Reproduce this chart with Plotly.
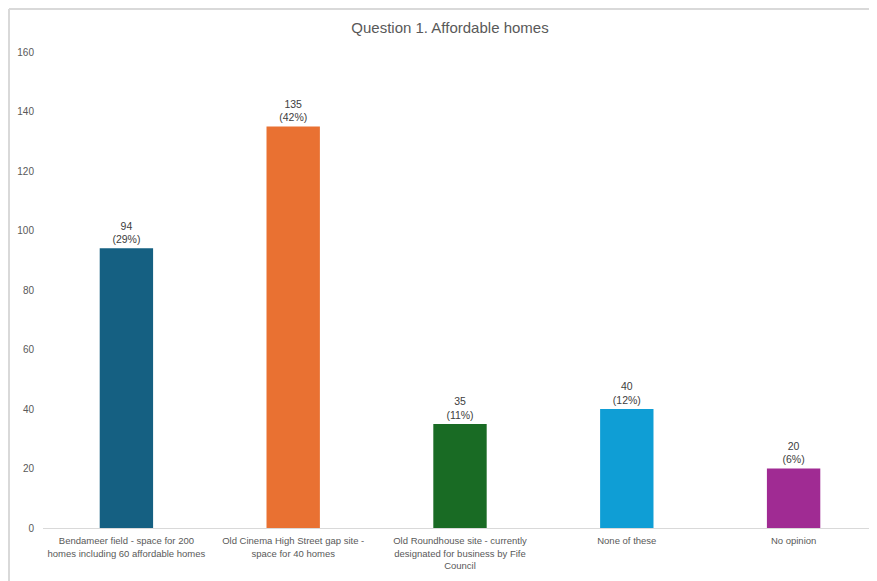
import plotly.graph_objects as go

categories = [
    "Bendameer field - space for 200<br>homes including 60 affordable homes",
    "Old Cinema High Street gap site -<br>space for 40 homes",
    "Old Roundhouse site - currently<br>designated for business by Fife<br>Council",
    "None of these",
    "No opinion",
]
values = [94, 135, 35, 40, 20]
percents = ["29%", "42%", "11%", "12%", "6%"]
colors = ["#156082", "#E97132", "#196B24", "#0F9ED5", "#A02B93"]
y_ticks = [0, 20, 40, 60, 80, 100, 120, 140, 160]

labels = [f"{v}<br>({p})" for v, p in zip(values, percents)]

W, H = 869, 573
L, T, B = 35, 44, 53
PW, PH = W - L, H - T - B

fig = go.Figure(go.Bar(
    x=categories, y=values, marker=dict(color=colors, line=dict(width=0)),
    text=labels, textposition="outside", cliponaxis=False,
    textfont=dict(size=10.5, color="#404040", family="Liberation Sans"),
    hoverinfo="skip",
))

fig.update_layout(
    width=W, height=H,
    margin=dict(l=L, r=0, t=T, b=B),
    paper_bgcolor="white", plot_bgcolor="white",
    bargap=0.68,
    showlegend=False,
    font=dict(family="Liberation Sans", size=10, color="#595959"),
    title=dict(text="Question 1. Affordable homes", x=442/W, xanchor="center",
               y=1 - 20/H, yanchor="middle",
               font=dict(size=15, color="#595959", family="Liberation Sans")),
    xaxis=dict(showline=True, linecolor="#D9D9D9", linewidth=1, ticks="",
               showgrid=False, ticklabelstandoff=4,
               tickfont=dict(size=9.5, color="#595959")),
    yaxis=dict(range=[0, 160], tickvals=y_ticks, showgrid=False, zeroline=False,
               showline=False, ticks="", ticklabelstandoff=8,
               tickfont=dict(size=10, color="#595959")),
    shapes=[
        dict(type="line", xref="paper", yref="paper", x0=(1-L)/PW, x1=1.02,
             y0=1 + (T-1)/PH, y1=1 + (T-1)/PH, line=dict(color="#D9D9D9", width=2)),
        dict(type="line", xref="paper", yref="paper", x0=(1-L)/PW, x1=(1-L)/PW,
             y0=1 + (T-1)/PH, y1=-0.2, line=dict(color="#D9D9D9", width=2)),
    ],
)

fig.write_html("out.html")
